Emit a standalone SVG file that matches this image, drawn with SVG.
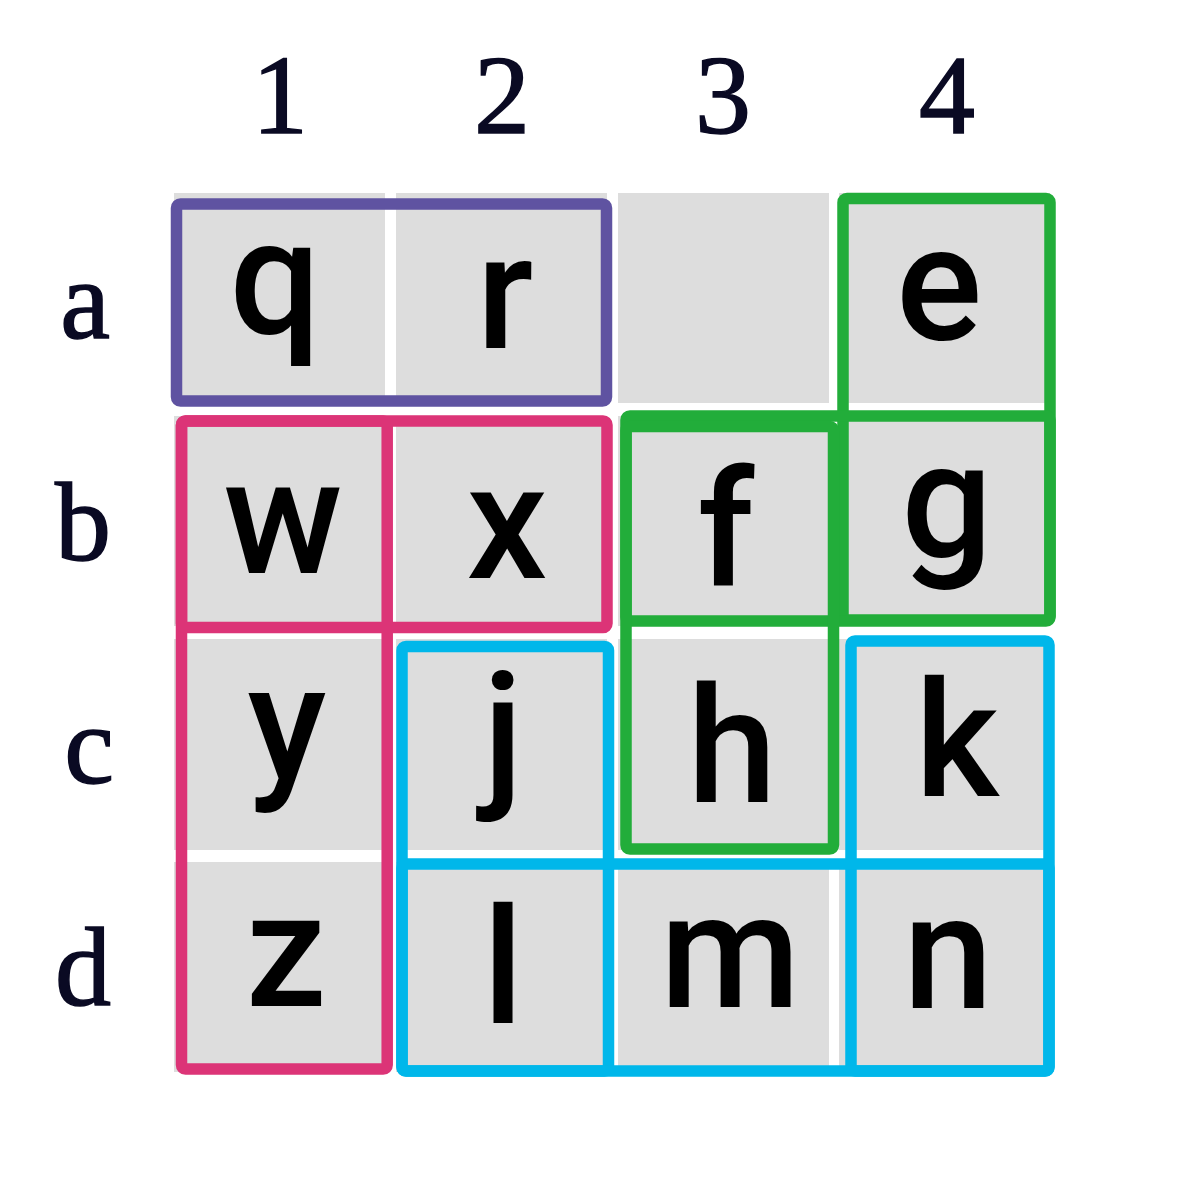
<svg xmlns="http://www.w3.org/2000/svg" width="1200" height="1202" viewBox="0 0 1200 1202">
<style>
.cell{fill:#dddddd}
.lt{font-family:Roboto,"Noto Sans",sans-serif;font-size:161px;font-weight:500;fill:#000;text-anchor:middle}
.hd{font-family:"Liberation Serif","DejaVu Serif",serif;font-size:112px;fill:#0a0a23;text-anchor:middle;stroke:#0a0a23;stroke-width:1.5}
.grp{fill:none;stroke-width:11.5;stroke-linejoin:round}
.pu{stroke:#5f53a1}
.pk{stroke:#dc3477}
.gr{stroke:#22ad3a}
.bl{stroke:#00b7ea}
</style>
<rect width="1200" height="1202" fill="#ffffff"/>
<g id="headers">
<text class="hd" x="280" y="133">1</text>
<text class="hd" x="502" y="133">2</text>
<text class="hd" x="723" y="133">3</text>
<text class="hd" x="947" y="133">4</text>
<text class="hd" x="85" y="338">a</text>
<text class="hd" x="83" y="560">b</text>
<text class="hd" x="89" y="783">c</text>
<text class="hd" x="83" y="1005">d</text>
</g>
<g id="cells">
<g id="cell-q"><rect class="cell" x="174" y="193" width="211" height="210"/><text class="lt" x="275" y="333">q</text></g>
<g id="cell-r"><rect class="cell" x="396" y="193" width="211" height="210"/><text class="lt" x="505" y="348">r</text></g>
<g id="cell-a3"><rect class="cell" x="618" y="193" width="211" height="210"/></g>
<g id="cell-e"><rect class="cell" x="839" y="193" width="211" height="210"/><text class="lt" x="939" y="339">e</text></g>
<g id="cell-w"><rect class="cell" x="174" y="416" width="211" height="210"/><text class="lt" x="283" y="573">w</text></g>
<g id="cell-x"><rect class="cell" x="396" y="416" width="211" height="210"/><text class="lt" x="507" y="578">x</text></g>
<g id="cell-f"><rect class="cell" x="618" y="416" width="211" height="210"/><text class="lt" x="726" y="586">f</text></g>
<g id="cell-g"><rect class="cell" x="839" y="416" width="211" height="210"/><text class="lt" x="947" y="556">g</text></g>
<g id="cell-y"><rect class="cell" x="174" y="639" width="211" height="211"/><text class="lt" x="287" y="779">y</text></g>
<g id="cell-j"><rect class="cell" x="396" y="639" width="211" height="211"/><text class="lt" x="503" y="788">j</text></g>
<g id="cell-h"><rect class="cell" x="618" y="639" width="211" height="211"/><text class="lt" x="732" y="802">h</text></g>
<g id="cell-k"><rect class="cell" x="839" y="639" width="211" height="211"/><text class="lt" x="957" y="796">k</text></g>
<g id="cell-z"><rect class="cell" x="174" y="862" width="211" height="210"/><text class="lt" x="286" y="1006">z</text></g>
<g id="cell-l"><rect class="cell" x="396" y="862" width="211" height="210"/><text class="lt" x="503" y="1023">l</text></g>
<g id="cell-m"><rect class="cell" x="618" y="862" width="211" height="210"/><text class="lt" x="730" y="1007">m</text></g>
<g id="cell-n"><rect class="cell" x="839" y="862" width="211" height="210"/><text class="lt" x="948" y="1008">n</text></g>
</g>
<g id="groupings">
<rect class="grp pu" x="176.5" y="204" width="430" height="197" rx="4"/>
<rect class="grp pk" x="181.5" y="421" width="205.7" height="648" rx="4"/>
<rect class="grp pk" x="181.5" y="421" width="425.5" height="206.5" rx="4"/>
<rect class="grp gr" x="843" y="198.5" width="207" height="421.5" rx="4"/>
<rect class="grp gr" x="626" y="416" width="424" height="205" rx="4"/>
<rect class="grp gr" x="626" y="426.5" width="207.5" height="422.5" rx="4"/>
<rect class="grp bl" x="402" y="646.5" width="206.5" height="424.5" rx="4"/>
<rect class="grp bl" x="851" y="641" width="198" height="430" rx="4"/>
<rect class="grp bl" x="402" y="864" width="647" height="207" rx="4"/>
</g>
</svg>
